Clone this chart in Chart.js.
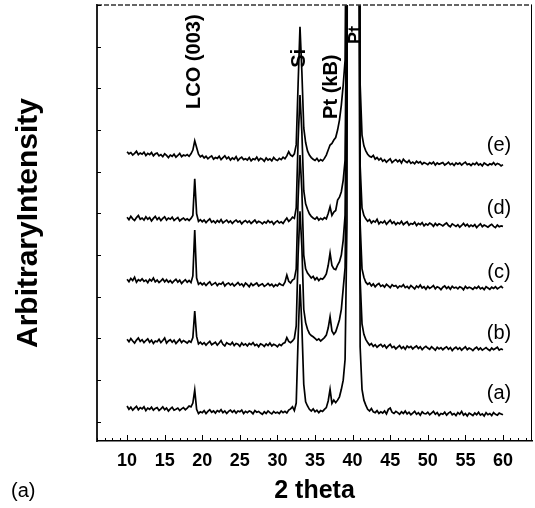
<!DOCTYPE html>
<html>
<head>
<meta charset="utf-8">
<script src="https://cdn.jsdelivr.net/npm/chart.js@4.4.1/dist/chart.umd.min.js"></script>
<style>
  html, body { margin: 0; padding: 0; background: #fff; }
  #xrd { display: block; }
</style>
</head>
<body>
<canvas id="xrd" width="535" height="508"></canvas>
<script>
// 2 theta positions shared by every trace (degrees)
const thetaValues = [
  10, 10.25, 10.5, 10.75, 11, 11.25, 11.5, 11.75,
  12, 12.25, 12.5, 12.75, 13, 13.25, 13.5, 13.75,
  14, 14.25, 14.5, 14.75, 15, 15.25, 15.5, 15.75,
  16, 16.25, 16.5, 16.75, 17, 17.25, 17.5, 17.75,
  18, 18.25, 18.5, 18.75, 19, 19.25, 19.5, 19.75,
  20, 20.25, 20.5, 20.75, 21, 21.25, 21.5, 21.75,
  22, 22.25, 22.5, 22.75, 23, 23.25, 23.5, 23.75,
  24, 24.25, 24.5, 24.75, 25, 25.25, 25.5, 25.75,
  26, 26.25, 26.5, 26.75, 27, 27.25, 27.5, 27.75,
  28, 28.25, 28.5, 28.75, 29, 29.25, 29.5, 29.75,
  30, 30.25, 30.5, 30.75, 31, 31.25, 31.5, 31.75,
  32, 32.25, 32.5, 32.75, 33, 33.25, 33.5, 33.75,
  34, 34.25, 34.5, 34.75, 35, 35.25, 35.5, 35.75,
  36, 36.25, 36.5, 36.75, 37, 37.25, 37.5, 37.75,
  38, 38.25, 38.5, 38.75, 39, 39.25, 39.5, 39.75,
  40, 40.25, 40.5, 40.75, 41, 41.25, 41.5, 41.75,
  42, 42.25, 42.5, 42.75, 43, 43.25, 43.5, 43.75,
  44, 44.25, 44.5, 44.75, 45, 45.25, 45.5, 45.75,
  46, 46.25, 46.5, 46.75, 47, 47.25, 47.5, 47.75,
  48, 48.25, 48.5, 48.75, 49, 49.25, 49.5, 49.75,
  50, 50.25, 50.5, 50.75, 51, 51.25, 51.5, 51.75,
  52, 52.25, 52.5, 52.75, 53, 53.25, 53.5, 53.75,
  54, 54.25, 54.5, 54.75, 55, 55.25, 55.5, 55.75,
  56, 56.25, 56.5, 56.75, 57, 57.25, 57.5, 57.75,
  58, 58.25, 58.5, 58.75, 59, 59.25, 59.5, 59.75,
  60
];

// intensities (arb. units), before stacking
const sampleA = [
  38, 30, 35, 28, 33, 37, 29, 34,
  31, 36, 27, 33, 30, 35, 28, 32,
  34, 27, 31, 36, 29, 33, 26, 31,
  35, 28, 30, 33, 27, 31, 34, 29,
  33, 38, 36, 45, 76, 30, 20, 24,
  22, 27, 20, 25, 29, 23, 26, 21,
  27, 24, 29, 22, 26, 20, 25, 28,
  23, 27, 21, 26, 24, 28, 20, 25,
  22, 26, 24, 19, 27, 23, 25, 21,
  18, 24, 20, 26, 22, 19, 25, 21,
  23, 20, 26, 22, 25, 21, 28, 31,
  36, 27, 45, 200, 330, 230, 90, 48,
  38, 30, 26, 31, 24, 28, 22, 27,
  25, 30, 34, 50, 78, 44, 52, 46,
  52, 60, 78, 100, 150, 480, 5000, 9000,
  10000, 9000, 5000, 2000, 180, 78, 52, 40,
  30, 26, 32, 24, 22, 27, 20, 24,
  21, 26, 19, 30, 33, 23, 20, 25,
  22, 18, 24, 20, 26, 19, 23, 17,
  21, 25, 18, 22, 16, 24, 20, 19,
  23, 17, 21, 25, 18, 22, 15, 20,
  18, 23, 16, 21, 24, 17, 20, 15,
  22, 18, 25, 16, 20, 14, 21, 18,
  15, 21, 17, 23, 16, 19, 14, 22,
  17, 20, 15, 22, 18, 16, 21, 19,
  17
];
const sampleB = [
  38, 32, 40, 34, 29, 36, 41, 33,
  37, 30, 35, 39, 31, 36, 28, 34,
  32, 38, 30, 35, 41, 29, 34, 37,
  31, 36, 28, 33, 38, 30, 35, 32,
  29, 34, 31, 42, 106, 45, 27, 31,
  26, 30, 24, 29, 33, 25, 28, 31,
  24, 29, 35, 26, 22, 30, 27, 25,
  31, 23, 28, 26, 21, 29, 24, 27,
  22, 28, 25, 30, 23, 26, 20, 27,
  25, 21, 27, 23, 29, 22, 26, 24,
  20, 26, 23, 28, 30, 42, 33, 30,
  34, 40, 70, 240, 345, 260, 110, 78,
  62, 52, 47, 44, 40, 36, 39, 34,
  38, 42, 48, 65, 92, 58, 50, 56,
  70, 85, 110, 160, 210, 600, 5000, 9000,
  10000, 9000, 5000, 2000, 180, 75, 50, 38,
  30, 24, 28, 21, 25, 19, 23, 26,
  20, 24, 17, 22, 26, 18, 21, 15,
  19, 23, 16, 20, 14, 22, 18, 21,
  15, 19, 22, 16, 20, 13, 18, 21,
  17, 14, 20, 16, 12, 19, 15, 18,
  13, 17, 20, 14, 18, 11, 16, 19,
  14, 18, 12, 16, 20, 13, 17, 15,
  11, 16, 19, 13, 17, 12, 15, 18,
  14, 11, 17, 13, 16, 19, 12, 15,
  13
];
const sampleC = [
  37, 31, 39, 34, 42, 30, 36, 33,
  38, 32, 35, 29, 37, 33, 40, 31,
  35, 29, 33, 38, 31, 36, 30, 34,
  28, 33, 37, 30, 35, 27, 32, 36,
  30, 34, 29, 45, 155, 40, 25, 29,
  24, 28, 22, 27, 31, 23, 26, 29,
  22, 27, 25, 30, 21, 26, 28, 23,
  27, 21, 25, 29, 23, 26, 20, 28,
  24, 19, 27, 22, 25, 28, 21, 24,
  26, 20, 23, 27, 22, 25, 19, 24,
  21, 27, 24, 22, 30, 47, 32, 28,
  35, 38, 62, 230, 335, 250, 95, 62,
  52, 46, 40, 44, 36, 41, 34, 39,
  37, 42, 50, 70, 100, 70, 62, 60,
  71, 79, 95, 131, 191, 700, 5000, 9000,
  10000, 9000, 5000, 2000, 170, 62, 42, 30,
  25, 28, 21, 26, 19, 24, 27, 20,
  23, 18, 25, 21, 17, 24, 20, 22,
  16, 21, 19, 24, 17, 20, 15, 22,
  18, 14, 21, 17, 23, 16, 19, 13,
  20, 15, 18, 22, 14, 19, 17, 12,
  18, 21, 15, 19, 13, 20, 16, 18,
  14, 19, 17, 12, 20, 15, 18, 16,
  13, 18, 15, 20, 14, 17, 12, 19,
  16, 13, 18, 15, 19, 14, 17, 20,
  16
];
const sampleD = [
  36, 30, 38, 32, 28, 35, 40, 31,
  34, 29, 37, 31, 35, 27, 33, 38,
  30, 35, 28, 33, 37, 29, 34, 31,
  36, 28, 32, 35, 27, 31, 34, 29,
  32, 28, 33, 40, 128, 44, 26, 30,
  25, 29, 23, 28, 32, 24, 27, 22,
  28, 24, 30, 22, 26, 29, 23, 27,
  21, 26, 29, 24, 27, 20, 25, 28,
  23, 27, 21, 25, 29, 22, 26, 24,
  20, 25, 22, 28, 23, 26, 19, 24,
  27, 22, 25, 21, 28, 34, 26, 30,
  36, 33, 58, 220, 329, 240, 100, 68,
  55, 44, 38, 34, 31, 36, 29, 33,
  30, 35, 32, 45, 61, 40, 48, 52,
  77, 84, 97, 125, 173, 700, 5000, 9000,
  10000, 9000, 5000, 2000, 160, 58, 40, 32,
  26, 30, 22, 27, 24, 31, 20, 25,
  22, 27, 19, 24, 29, 21, 25, 18,
  23, 20, 26, 18, 22, 25, 17, 21,
  19, 24, 16, 21, 18, 23, 15, 20,
  17, 22, 19, 14, 21, 16, 20, 18,
  15, 19, 22, 16, 13, 20, 17, 14,
  18, 12, 16, 21, 15, 19, 13, 17,
  14, 18, 11, 16, 20, 13, 17, 15,
  12, 16, 19, 14, 11, 17, 13, 15,
  14
];
const sampleE = [
  38, 33, 36, 30, 34, 39, 31, 35,
  32, 37, 29, 34, 31, 36, 28, 33,
  35, 28, 31, 26, 33, 29, 24, 30,
  27, 32, 25, 29, 34, 26, 30, 28,
  31, 27, 33, 42, 64, 48, 32, 26,
  29, 23, 27, 21, 25, 28, 20, 24,
  22, 27, 19, 24, 28, 21, 25, 18,
  23, 20, 26, 17, 22, 25, 19, 21,
  18, 24, 16, 21, 19, 25, 17, 22,
  20, 15, 23, 18, 21, 16, 24, 19,
  17, 22, 19, 25, 21, 28, 38, 30,
  27, 33, 55, 200, 338, 230, 95, 60,
  40, 30, 24, 20, 17, 22, 15, 19,
  16, 22, 30, 42, 54, 58, 66, 72,
  90, 114, 150, 198, 258, 900, 5000, 9000,
  10000, 9000, 5000, 2000, 200, 78, 52, 40,
  32, 27, 25, 29, 20, 24, 18, 22,
  15, 19, 13, 17, 21, 12, 16, 19,
  14, 18, 11, 20, 15, 12, 17, 10,
  13, 9, 15, 11, 14, 8, 12, 10,
  7, 12, 9, 13, 6, 11, 8, 10,
  12, 6, 9, 13, 7, 10, 5, 11,
  8, 11, 6, 10, 13, 7, 9, 5,
  10, 7, 12, 6, 9, 4, 11, 8,
  5, 9, 7, 12, 6, 10, 8, 4,
  7
];

const sampleSeries = [sampleA, sampleB, sampleC, sampleD, sampleE];
const sampleNames = ["(a)", "(b)", "(c)", "(d)", "(e)"];
const stackOffsets = [0, 160, 305, 455, 610];

const xTickValues = [10, 15, 20, 25, 30, 35, 40, 45, 50, 55, 60];

const peakNames = ["LCO (003)", "Si", "Pt (kB)", "Pt"];
const peakTheta = [19.03, 32.87, 37.13, 40.45];

const FONT = "'Liberation Sans', Arial, Helvetica, sans-serif";

function vText(ctx, text, x, y, font) {
  ctx.save();
  ctx.translate(x, y);
  ctx.rotate(-Math.PI / 2);
  ctx.font = font;
  ctx.textAlign = "center";
  ctx.textBaseline = "middle";
  ctx.fillText(text, 0, 0);
  ctx.restore();
}

// frame edges, inward ticks and the text labels inside the plot
const frameAndLabels = {
  id: "frameAndLabels",
  afterDraw(chart) {
    const { ctx, chartArea: a } = chart;
    const xs = chart.scales.x;
    const ys = chart.scales.y;
    ctx.save();
    ctx.strokeStyle = "#333";
    ctx.lineWidth = 1.5;
    ctx.setLineDash([5, 2]);
    ctx.beginPath();
    ctx.moveTo(a.left, a.top);
    ctx.lineTo(a.right, a.top);
    ctx.stroke();
    ctx.setLineDash([]);

    ctx.strokeStyle = "#000";
    ctx.lineWidth = 1;
    ctx.beginPath();
    ctx.moveTo(a.right - 0.5, a.top);
    ctx.lineTo(a.right - 0.5, a.bottom);
    for (let v = Math.ceil(xs.min); v <= Math.floor(xs.max); v++) {
      const px = Math.round(xs.getPixelForValue(v)) + 0.5;
      ctx.moveTo(px, a.bottom);
      ctx.lineTo(px, a.bottom - (v % 5 === 0 ? 6 : 3));
    }
    for (let v = 0; v <= ys.max; v += 100) {
      const py = Math.round(ys.getPixelForValue(v)) + 0.5;
      ctx.moveTo(a.left, py);
      ctx.lineTo(a.left + 4, py);
    }
    ctx.stroke();

    ctx.fillStyle = "#000";
    const peakLevels = [864, 872, 804, 928];
    peakNames.forEach((name, i) => {
      const size = name === "Pt" ? 18 : 20;
      vText(ctx, name, xs.getPixelForValue(peakTheta[i]), ys.getPixelForValue(peakLevels[i]), `bold ${size}px ${FONT}`);
    });

    ctx.font = `20px ${FONT}`;
    ctx.textAlign = "center";
    ctx.textBaseline = "middle";
    const nameLevels = [67, 213, 359, 511, 664];
    sampleNames.forEach((name, i) => {
      ctx.fillText(name, xs.getPixelForValue(59.47), ys.getPixelForValue(nameLevels[i]));
    });

    ctx.textAlign = "left";
    ctx.fillText("(a)", 11, 491);
    ctx.restore();
  },
};

const datasets = sampleSeries.map((series, i) => ({
  label: sampleNames[i],
  data: series.map((v, j) => ({ x: thetaValues[j], y: v + stackOffsets[i] })),
  borderColor: "#000",
  borderWidth: 1.7,
  pointRadius: 0,
  tension: 0,
  fill: false,
}));

new Chart(document.getElementById("xrd"), {
  type: "line",
  data: { datasets },
  options: {
    responsive: false,
    animation: false,
    layout: { padding: { left: 11, right: 3, top: 5, bottom: 0 } },
    plugins: {
      legend: { display: false },
      tooltip: { enabled: false },
    },
    scales: {
      x: {
        type: "linear",
        min: 6,
        max: 63.86,
        grid: { display: false, drawTicks: false },
        border: { display: true, color: "#000", width: 1.5 },
        afterBuildTicks: (scale) => {
          scale.ticks = xTickValues.map((v) => ({ value: v }));
        },
        afterFit: (scale) => {
          scale.height = 67;
        },
        ticks: {
          color: "#000",
          padding: 9,
          maxRotation: 0,
          autoSkip: false,
          font: { family: FONT, size: 18, weight: "bold" },
        },
        title: {
          display: true,
          text: "2 theta",
          color: "#000",
          padding: { top: 0, bottom: 2 },
          font: { family: FONT, size: 25, weight: "bold" },
        },
      },
      y: {
        type: "linear",
        min: -46,
        max: 1000,
        grid: { display: false, drawTicks: false },
        border: { display: true, color: "#222", width: 2 },
        ticks: { display: false },
        afterFit: (scale) => {
          scale.width = 86;
        },
        title: {
          display: true,
          text: "ArbitraryIntensity",
          color: "#000",
          padding: { top: 0, bottom: 0 },
          font: { family: FONT, size: 30, weight: "bold" },
        },
      },
    },
  },
  plugins: [frameAndLabels],
});
</script>
</body>
</html>
